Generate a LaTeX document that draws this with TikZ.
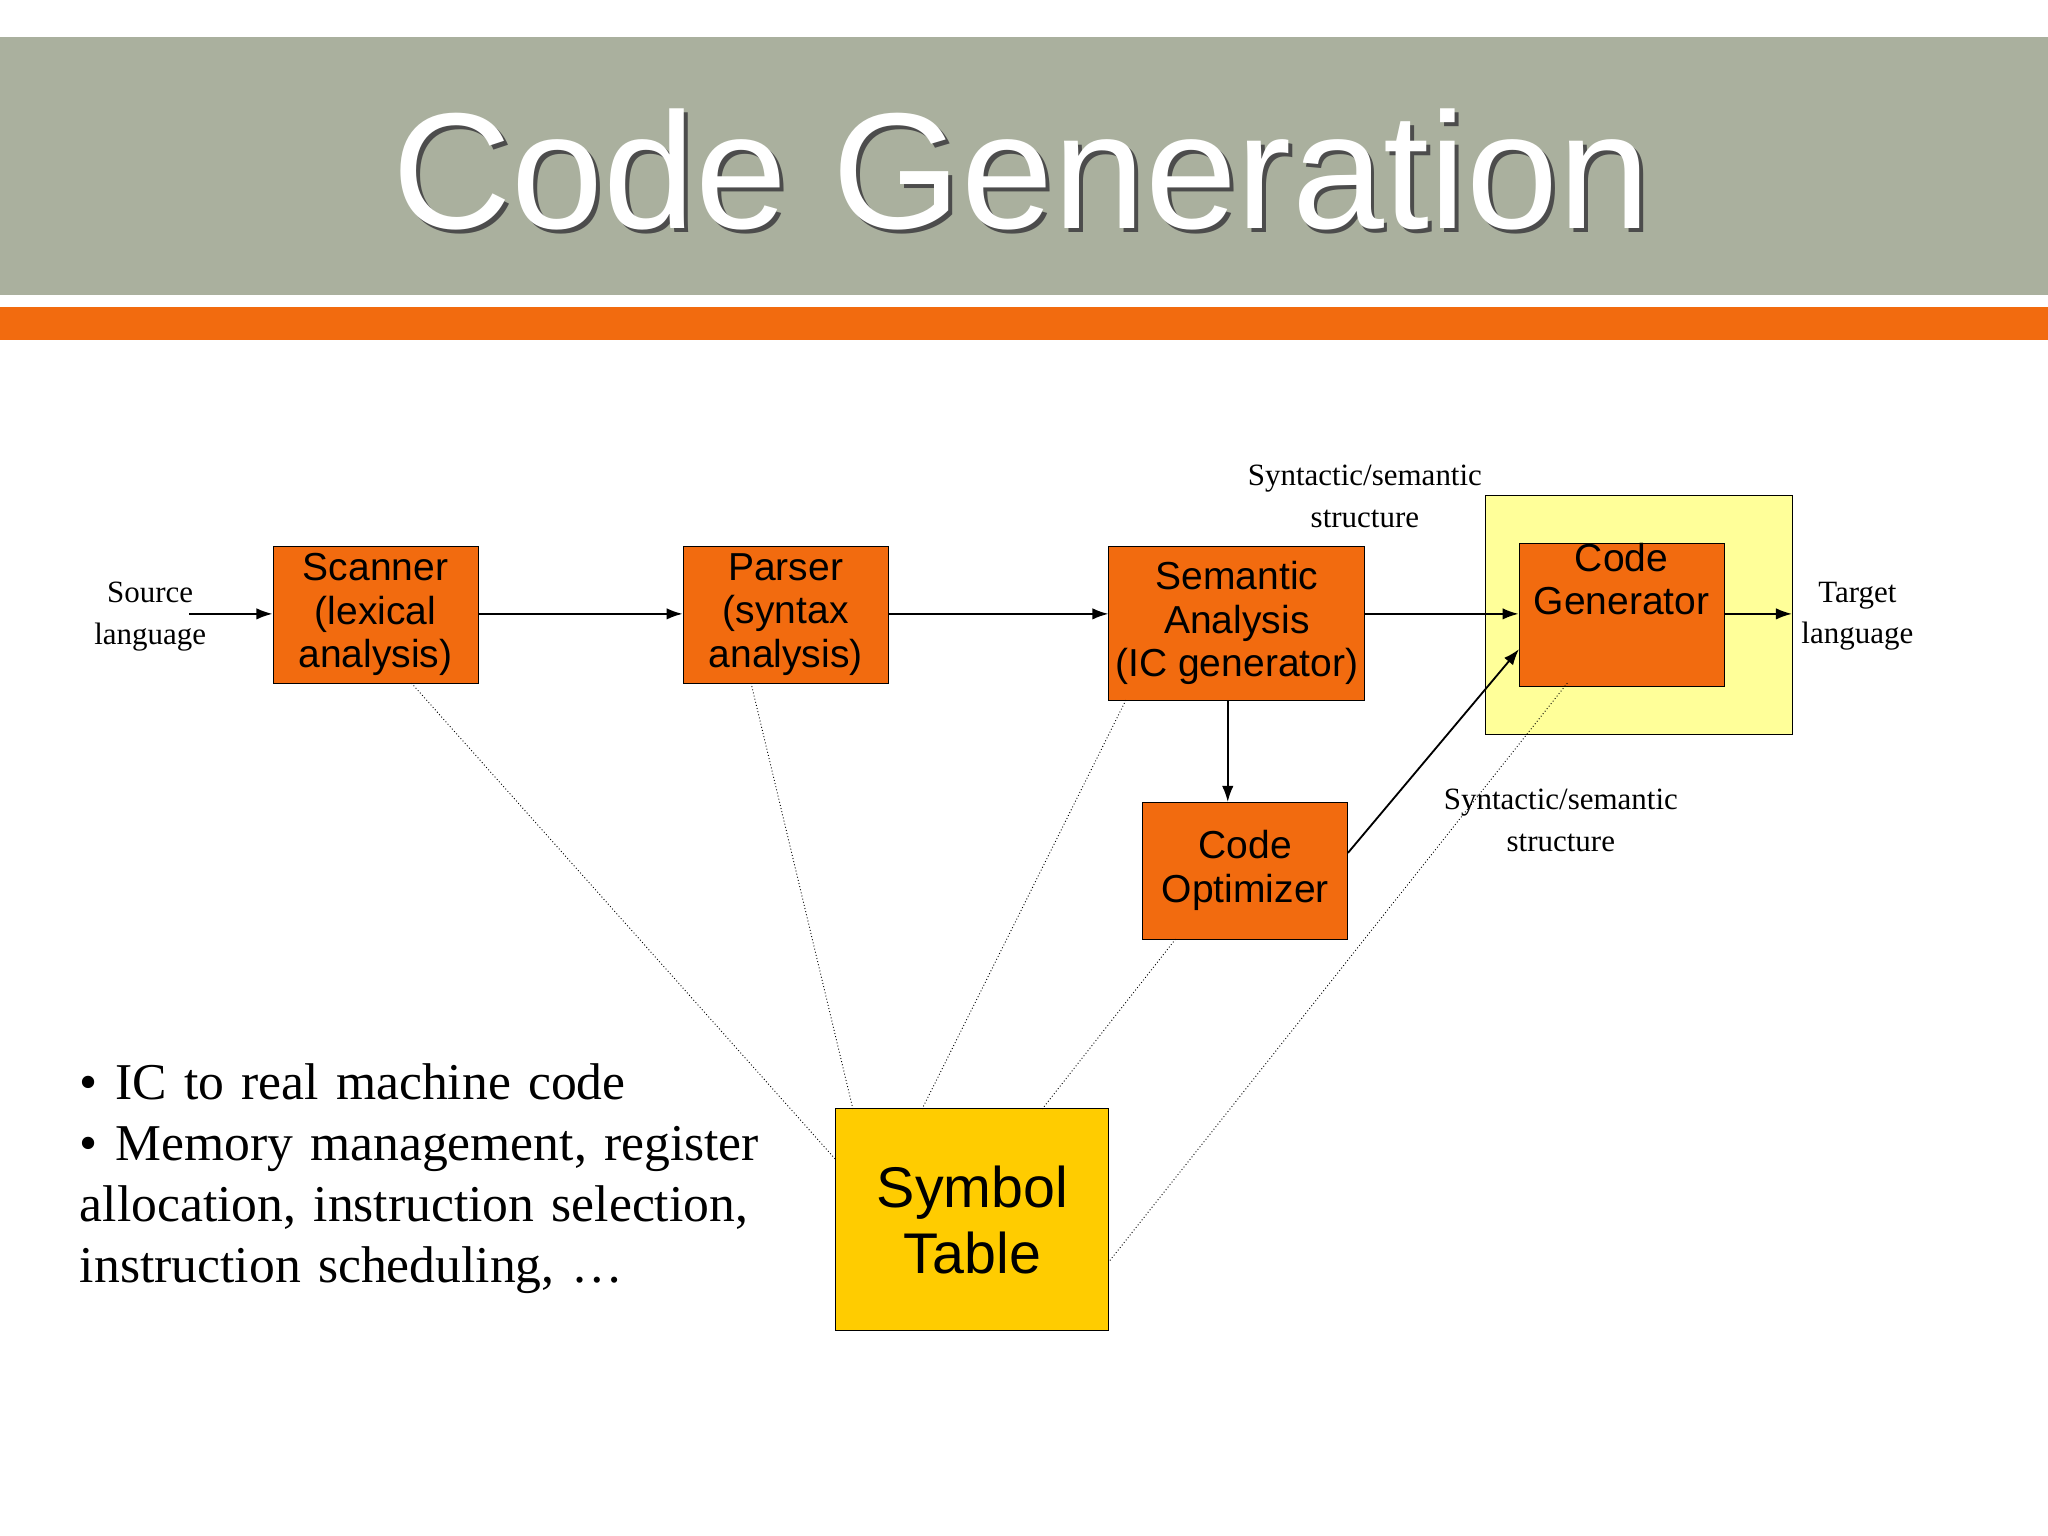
\documentclass[tikz,border=0pt]{standalone}
\usepackage{fontspec}
\setmainfont{Liberation Serif}
\newfontfamily\sans{Liberation Sans}
\usetikzlibrary{arrows.meta}
\definecolor{band}{HTML}{AAB09E}
\definecolor{orng}{HTML}{F26B0F}
\definecolor{ylw}{HTML}{FFCC00}
\definecolor{pale}{HTML}{FFFF99}
\begin{document}
\begin{tikzpicture}[x=0.02cm,y=-0.02cm,
 box/.style={draw=black,fill=orng,font=\sans\fontsize{17}{19}\selectfont,align=center,inner sep=0pt},
 lbl/.style={font=\fontsize{13.5}{18}\selectfont,align=center},
 arr/.style={-{Latex[length=7pt,width=5pt]},thick},
 dot/.style={densely dotted}]
\useasboundingbox (0,0) rectangle (1568,1176);
\fill[band] (0,28) rectangle (1568,226);
\fill[orng] (0,235) rectangle (1568,260);
\node[text=gray!60!black,font=\sans\fontsize{72}{80}\selectfont] at (785,133) {Code Generation};
\node[text=white,font=\sans\fontsize{72}{80}\selectfont] (title) at (782,130) {Code Generation};
\draw[fill=pale] (1137,379) rectangle (1372,562);
\node[box,minimum width=157*0.02cm,minimum height=105*0.02cm] (sc) at (287.5,470.5) {Scanner\\(lexical\\ analysis)};
\node[box,minimum width=157*0.02cm,minimum height=105*0.02cm] (pa) at (601.5,470.5) {Parser\\(syntax\\ analysis)};
\node[box,minimum width=196*0.02cm,minimum height=118*0.02cm] (se) at (947,477) {Semantic\\Analysis\\(IC generator)};
\node[box,minimum width=157*0.02cm,minimum height=105*0.02cm] (cg) at (1241.5,470.5) {Code\\Generator\\[12pt]};
\node[box,minimum width=157*0.02cm,minimum height=105*0.02cm] (co) at (953.5,666.5) {Code\\Optimizer};
\node[draw=black,fill=ylw,font=\sans\fontsize{25}{29}\selectfont,align=center,inner sep=0pt,minimum width=209*0.02cm,minimum height=170*0.02cm] (st) at (744.5,934) {Symbol\\Table};
\node[lbl] (src) at (115,472) {Source\\language};
\node[lbl] (tgt) at (1422,472) {Target\\language};
\node[lbl] (l1) at (1045,380) {Syntactic/semantic\\structure};
\node[lbl] (l2) at (1195,628) {Syntactic/semantic\\structure};
\coordinate (s0) at (145,470);
\coordinate (t0) at (1372,470);
\draw[arr] (s0) -- (sc.west|-s0);
\draw[arr] (sc.east|-s0) -- (pa.west|-s0);
\draw[arr] (pa.east|-s0) -- (se.west|-s0);
\draw[arr] (se.east|-s0) -- (cg.west|-s0);
\draw[arr] (cg.east|-s0) -- (t0);
\draw[arr] (940,536) -- (940,614);
\draw[arr] (1032,653) -- (1163,497);
\draw[dot] (315,523) -- (640,888);
\draw[dot] (575,523) -- (653,849);
\draw[dot] (862,536) -- (706,849);
\draw[dot] (900,719) -- (798,849);
\draw[dot] (1200,523) -- (849,966);
\node[anchor=north west,font=\fontsize{22.5}{26.6}\selectfont,align=left,text width=15cm] (bul) at (55,808) {%
\textbullet\ IC to real machine code\\
\textbullet\ Memory management, register\\
allocation, instruction selection,\\
instruction scheduling, \dots};
\end{tikzpicture}
\end{document}
